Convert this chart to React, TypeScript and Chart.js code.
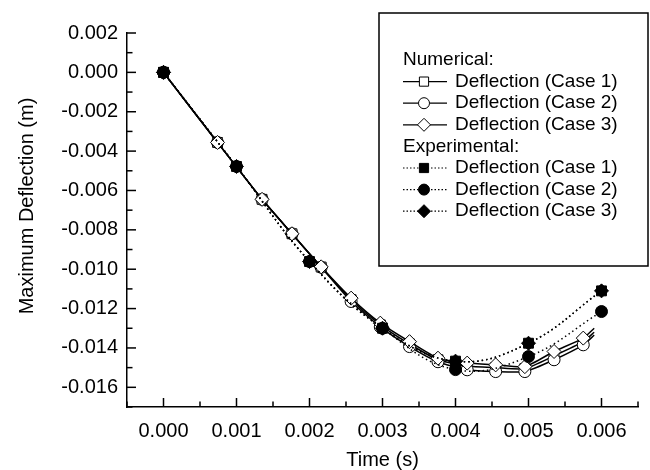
import React, { useEffect, useRef } from 'react';
import { Chart, registerables } from 'chart.js';

Chart.register(...registerables);

// ---- Data ----
const numTime = [0, 0.00074, 0.00135, 0.00176, 0.00216, 0.00257, 0.00297, 0.00337, 0.00376, 0.00416, 0.00455, 0.00495, 0.00535, 0.00575, 0.0059];
const numCase1 = [0, -0.00356, -0.00645, -0.0082, -0.00989, -0.01155, -0.01283, -0.0138, -0.0146, -0.01492, -0.015, -0.01505, -0.0144, -0.01368, -0.0132];
const numCase2 = [0, -0.00356, -0.00645, -0.0082, -0.0099, -0.01164, -0.01293, -0.01393, -0.0147, -0.01511, -0.0152, -0.0152, -0.0146, -0.01384, -0.01335];
const numCase3 = [0, -0.00356, -0.00645, -0.0082, -0.00988, -0.01147, -0.01274, -0.01368, -0.01452, -0.01477, -0.01486, -0.01495, -0.01418, -0.0135, -0.013];

const expTime = [0, 0.001, 0.002, 0.003, 0.004, 0.005, 0.006];
const expCase1 = [0, -0.00478, -0.00961, -0.013, -0.01467, -0.01376, -0.0111];
const expCase2 = [0, -0.00478, -0.00961, -0.013, -0.0151, -0.01444, -0.01215];
const expCase3 = [0, -0.00478, -0.00961, -0.013, -0.01467, -0.01376, -0.0111];

const xTickValues = [0, 0.001, 0.002, 0.003, 0.004, 0.005, 0.006];
const xTickLabels = ['0.000', '0.001', '0.002', '0.003', '0.004', '0.005', '0.006'];
const yTickValues = [0.002, 0, -0.002, -0.004, -0.006, -0.008, -0.01, -0.012, -0.014, -0.016];
const yTickLabels = ['0.002', '0.000', '-0.002', '-0.004', '-0.006', '-0.008', '-0.010', '-0.012', '-0.014', '-0.016'];

const seriesLabels = ['Deflection (Case 1)', 'Deflection (Case 2)', 'Deflection (Case 3)'];
const groupLabels = ['Numerical:', 'Experimental:'];
const xTitle = 'Time (s)';
const yTitle = 'Maximum Deflection (m)';

const FONT = '"Liberation Sans", Arial, Helvetica, sans-serif';

const shapes = ['rect', 'circle', 'rectRot'];
const radii = [7, 6, 7];

function labelFor(values: number[], labels: string[], v: number) {
  for (let i = 0; i < values.length; i++) {
    if (Math.abs(values[i] - v) < 1e-9) return labels[i];
  }
  return '';
}

function drawMarker(ctx: CanvasRenderingContext2D, shape: string, x: number, y: number, r: number, filled: boolean) {
  ctx.beginPath();
  if (shape === 'rect') {
    const s = Math.SQRT1_2 * r;
    ctx.rect(x - s, y - s, 2 * s, 2 * s);
  } else if (shape === 'circle') {
    ctx.arc(x, y, r, 0, Math.PI * 2);
  } else {
    ctx.moveTo(x, y - r);
    ctx.lineTo(x + r, y);
    ctx.lineTo(x, y + r);
    ctx.lineTo(x - r, y);
    ctx.closePath();
  }
  ctx.fillStyle = filled ? '#000' : '#fff';
  ctx.fill();
  ctx.lineWidth = 1;
  ctx.strokeStyle = '#000';
  ctx.stroke();
}

const decorPlugin = {
  id: 'decor',
  afterDraw(chart: any) {
    const ctx: CanvasRenderingContext2D = chart.ctx;
    const xs = chart.scales.x;
    const ys = chart.scales.y;
    ctx.save();
    // inward ticks
    ctx.strokeStyle = '#000';
    ctx.lineWidth = 1.5;
    xs.ticks.forEach((t: any) => {
      const px = xs.getPixelForValue(t.value);
      const len = t.label !== '' ? 9 : 5.5;
      ctx.beginPath();
      ctx.moveTo(px, xs.top);
      ctx.lineTo(px, xs.top - len);
      ctx.stroke();
    });
    ys.ticks.forEach((t: any) => {
      const py = ys.getPixelForValue(t.value);
      const len = t.label !== '' ? 9 : 5.5;
      ctx.beginPath();
      ctx.moveTo(ys.right, py);
      ctx.lineTo(ys.right + len, py);
      ctx.stroke();
    });

    // y title
    ctx.save();
    ctx.translate(27, 206);
    ctx.rotate(-Math.PI / 2);
    ctx.font = `20px ${FONT}`;
    ctx.fillStyle = '#000';
    ctx.textAlign = 'center';
    ctx.textBaseline = 'middle';
    ctx.fillText(yTitle, 0, 0);
    ctx.restore();

    // legend box
    const bx = 379, by = 13, bw = 269, bh = 253;
    ctx.fillStyle = '#fff';
    ctx.fillRect(bx, by, bw, bh);
    ctx.strokeStyle = '#000';
    ctx.lineWidth = 1.5;
    ctx.strokeRect(bx, by, bw, bh);

    ctx.font = `19px ${FONT}`;
    ctx.textAlign = 'left';
    ctx.textBaseline = 'middle';
    const lx0 = 403, lx1 = 447, mx = 424, tx = 455;
    const rowH = 21.6;
    let y = 60;
    for (let g = 0; g < 2; g++) {
      ctx.fillStyle = '#000';
      ctx.fillText(groupLabels[g], lx0, y);
      y += rowH;
      for (let i = 0; i < 3; i++) {
        ctx.strokeStyle = '#000';
        ctx.lineWidth = 1.2;
        ctx.setLineDash(g === 0 ? [] : [1.5, 2]);
        ctx.beginPath();
        ctx.moveTo(lx0, y);
        ctx.lineTo(lx1, y);
        ctx.stroke();
        ctx.setLineDash([]);
        drawMarker(ctx, shapes[i], mx, y, i === 1 ? 5.5 : 6.5, g === 1);
        ctx.fillStyle = '#000';
        ctx.fillText(seriesLabels[i], tx, y);
        y += rowH;
      }
    }
    ctx.restore();
  },
};

function makeNum(i: number, values: number[]) {
  return {
    label: 'Numerical ' + seriesLabels[i],
    data: numTime.map((t, k) => ({ x: t, y: values[k] })),
    borderColor: '#000',
    borderWidth: 1.5,
    backgroundColor: '#fff',
    pointStyle: shapes[i],
    pointRadius: (c: any) => (c.dataIndex === numTime.length - 1 ? 0 : radii[i]),
    pointBackgroundColor: '#fff',
    pointBorderColor: '#000',
    pointBorderWidth: 1,
    tension: 0.2,
    order: 6 - i,
  };
}

function makeExp(i: number, values: number[]) {
  return {
    label: 'Experimental ' + seriesLabels[i],
    data: expTime.map((t, k) => ({ x: t, y: values[k] })),
    borderColor: '#000',
    borderWidth: 1.5,
    borderDash: [1.5, 3],
    backgroundColor: '#000',
    pointStyle: shapes[i],
    pointRadius: radii[i],
    pointBackgroundColor: '#000',
    pointBorderColor: '#000',
    pointBorderWidth: 1,
    tension: 0.4,
    order: 3 - i,
  };
}

export default function App() {
  const ref = useRef<HTMLCanvasElement>(null);
  useEffect(() => {
    if (!ref.current) return;
    const chart = new Chart(ref.current, {
      type: 'line',
      data: {
        datasets: [
          makeNum(0, numCase1),
          makeNum(1, numCase2),
          makeNum(2, numCase3),
          makeExp(0, expCase1),
          makeExp(1, expCase2),
          makeExp(2, expCase3),
        ] as any,
      },
      options: {
        animation: false,
        responsive: false,
        devicePixelRatio: 1,
        layout: { padding: { top: 33, right: 8, left: 0, bottom: 0 } },
        plugins: { legend: { display: false }, tooltip: { enabled: false } },
        scales: {
          x: {
            type: 'linear',
            min: -0.0005,
            max: 0.0065,
            grid: { display: false, drawTicks: false },
            border: { display: true, color: '#000', width: 1.5 },
            ticks: {
              stepSize: 0.0005,
              autoSkip: false,
              maxRotation: 0,
              minRotation: 0,
              padding: 12,
              color: '#000',
              font: { family: FONT, size: 20 },
              callback: (v: any) => labelFor(xTickValues, xTickLabels, Number(v)),
            },
            title: {
              display: true,
              text: xTitle,
              color: '#000',
              font: { family: FONT, size: 20, lineHeight: 1 },
              padding: { top: 0, bottom: 0 },
            },
            afterFit: (s: any) => {
              s.height = 63;
            },
          },
          y: {
            type: 'linear',
            min: -0.017,
            max: 0.002,
            grid: { display: false, drawTicks: false },
            border: { display: true, color: '#000', width: 1.5 },
            ticks: {
              stepSize: 0.001,
              autoSkip: false,
              padding: 9,
              color: '#000',
              font: { family: FONT, size: 20 },
              callback: (v: any) => labelFor(yTickValues, yTickLabels, Number(v)),
            },
            afterFit: (s: any) => {
              s.width = 127;
            },
          },
        },
      } as any,
      plugins: [decorPlugin],
    });
    return () => chart.destroy();
  }, []);
  return (
    <div style={{ position: 'absolute', left: 0, top: 0, width: 650, height: 470, background: '#fff' }}>
      <canvas ref={ref} width={650} height={470} />
    </div>
  );
}
